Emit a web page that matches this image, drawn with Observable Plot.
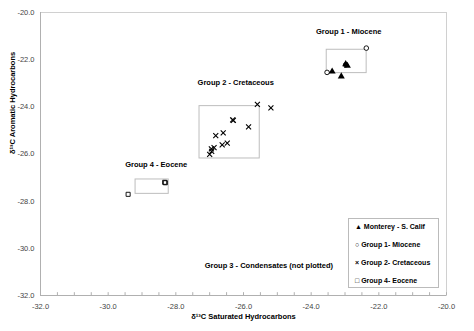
<!DOCTYPE html>
<html><head><meta charset="utf-8">
<script src="https://cdn.jsdelivr.net/npm/d3@7"></script>
<script src="https://cdn.jsdelivr.net/npm/@observablehq/plot@0.6"></script>
<style>
body{margin:0;background:#fff;font-family:"Liberation Sans",Arial,sans-serif;}
#wrap{position:relative;width:474px;height:331px;}
#legend{position:absolute;left:348px;top:218px;width:91px;height:70px;border:1px solid #bbb;background:#fff;box-sizing:border-box;font-size:7px;font-weight:bold;color:#000;}
#legend div{position:absolute;left:6px;white-space:nowrap;}
</style></head>
<body><div id="wrap"><div id="chart"></div><div id="legend"></div></div>
<script>
// Data
const monterey = [[-23.38,-22.50],[-23.11,-22.71],[-22.98,-22.19],[-22.93,-22.26]];
const group1 = [[-22.37,-21.51],[-23.53,-22.54],[-22.98,-22.22]];
const group2 = [[-25.59,-23.90],[-25.19,-24.04],[-26.32,-24.55],[-26.30,-24.57],[-25.85,-24.85],[-26.60,-25.10],[-26.82,-25.22],[-26.48,-25.54],[-26.63,-25.61],[-26.87,-25.73],[-26.95,-25.78],[-26.94,-25.89],[-27.00,-26.02]];
const group4 = [[-28.33,-27.20],[-28.31,-27.22],[-29.41,-27.71]];
const boxes = [
  {x1:-23.54,x2:-22.36,y1:-22.57,y2:-21.58},
  {x1:-27.30,x2:-25.52,y1:-26.19,y2:-23.97},
  {x1:-29.19,x2:-28.21,y1:-27.69,y2:-27.08}
];
const labels = [
  {x:-22.89,y:-20.81,text:"Group 1 - Miocene"},
  {x:-26.23,y:-22.98,text:"Group 2 - Cretaceous"},
  {x:-28.58,y:-26.43,text:"Group 4 - Eocene"},
  {x:-25.25,y:-30.72,text:"Group 3 - Condensates (not plotted)"}
];
const tickValues = [-32,-30,-28,-26,-24,-22,-20];
const yTickValues = [-32,-30,-28,-26,-24,-22,-20];
const minorX = d3.range(-32,-19.99,0.5);
const legendItems = [
  {sym:"\u25B2",text:"Monterey - S. Calif"},
  {sym:"\u25CB",text:"Group 1- Miocene"},
  {sym:"\u00D7",text:"Group 2- Cretaceous"},
  {sym:"\u25A1",text:"Group 4- Eocene"}
];

const fmt = d => d.toFixed(1);
const chart = Plot.plot({
  width:474, height:331,
  marginLeft:40, marginRight:28, marginTop:12, marginBottom:36,
  style:{fontFamily:"Liberation Sans, Arial, sans-serif", fontSize:"7.5px", background:"#fff"},
  x:{domain:[-32,-20]},
  y:{domain:[-32,-20]},
  marks:[
    Plot.frame({stroke:"#d0d0d0"}),
    Plot.ruleX([-32],{stroke:"#b0b0b0"}),
    Plot.ruleY([-32],{stroke:"#b0b0b0"}),
    Plot.ruleX(minorX,{y1:-32,y2:-31.88,stroke:"#b0b0b0"}),
    Plot.axisX({ticks:tickValues,tickFormat:fmt,tickSize:0,tickPadding:8,fill:"#444",label:null}),
    Plot.axisY({ticks:yTickValues,tickFormat:fmt,tickSize:0,tickPadding:6,fill:"#444",label:null}),
    Plot.rect(boxes,{x1:"x1",x2:"x2",y1:"y1",y2:"y2",stroke:"#bdbdbd",fill:"none",strokeWidth:1}),
    Plot.dot(group1,{x:d=>d[0],y:d=>d[1],symbol:"circle",r:2.3,stroke:"#000",fill:"#fff",strokeWidth:0.9}),
    Plot.dot(monterey,{x:d=>d[0],y:d=>d[1],symbol:"triangle",r:2.6,fill:"#000",stroke:"none"}),
    Plot.dot(group2,{x:d=>d[0],y:d=>d[1],symbol:"times",r:2.4,stroke:"#000",strokeWidth:1.1}),
    Plot.dot(group4,{x:d=>d[0],y:d=>d[1],symbol:"square",r:2.3,stroke:"#000",fill:"none",strokeWidth:0.9}),
    Plot.text(labels,{x:"x",y:"y",text:"text",fontWeight:"bold",fontSize:7.5,fill:"#000"}),
    Plot.text(["\u03B4\u00B9\u00B3C Saturated Hydrocarbons"],{frameAnchor:"bottom",dy:23,fontWeight:"bold",fontSize:7.5,fill:"#000"}),
    Plot.text(["\u03B4\u00B9\u00B3C Aromatic Hydrocarbons"],{frameAnchor:"left",dx:-28,rotate:-90,fontWeight:"bold",fontSize:7.5,fill:"#000"})
  ]
});
document.getElementById("chart").appendChild(chart);
const lg = document.getElementById("legend");
legendItems.forEach((it,i)=>{
  const d = document.createElement("div");
  d.style.top = (4 + i*18) + "px";
  d.textContent = it.sym + " " + it.text;
  lg.appendChild(d);
});
</script></body></html>
